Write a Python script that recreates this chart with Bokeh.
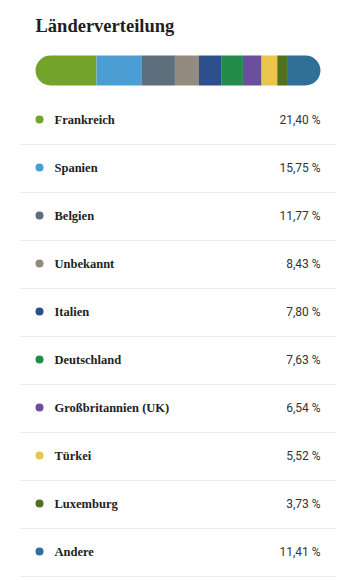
from bokeh.plotting import figure
from bokeh.models import Range1d, ColumnDataSource
from bokeh.core.properties import value
from bokeh.embed import file_html
from bokeh.resources import INLINE

title = "Länderverteilung"
countries = ["Frankreich", "Spanien", "Belgien", "Unbekannt", "Italien",
             "Deutschland", "Großbritannien (UK)", "Türkei", "Luxemburg", "Andere"]
shares = [21.40, 15.75, 11.77, 8.43, 7.80, 7.63, 6.54, 5.52, 3.73, 11.41]
colors = ["#74a32b", "#4a9ed3", "#5d6f7d", "#938a80", "#2d4f8e",
          "#238c4a", "#6a4f9e", "#e9c54b", "#4e721f", "#306f96"]
share_labels = [f"{v:.2f}".replace(".", ",") + " %" for v in shares]

W, H = 350, 580
p = figure(width=W, height=H, x_range=Range1d(0, W), y_range=Range1d(H, 0),
           toolbar_location=None, output_backend="svg",
           x_axis_location=None, y_axis_location=None, min_border=0)
p.grid.visible = False
p.outline_line_color = None
p.background_fill_color = "white"
p.border_fill_color = "white"

# percent scale for the stacked bar: 0% at x=35, 100% at x=320
bar_left, bar_right = 35, 320
ppx = (bar_right - bar_left) / 100.0
p.extra_x_ranges = {"pct": Range1d(-bar_left / ppx, (W - bar_left) / ppx)}

lefts, rights = [], []
acc = 0.0
for v in shares:
    lefts.append(acc)
    acc += v
    rights.append(acc)

bar_y = 70
bar_h = 30
n = len(shares)
for i in range(n):
    if i == 0:
        br = (15, 0, 0, 15)
    elif i == n - 1:
        br = (0, 15, 15, 0)
    else:
        br = 0
    src = ColumnDataSource(dict(left=[lefts[i]], right=[rights[i]], y=[bar_y], c=[colors[i]]))
    p.hbar(y="y", left="left", right="right", height=bar_h, fill_color="c",
           line_color=None, border_radius=br, x_range_name="pct", source=src)

# title
p.text(x=[35], y=[25], text=[title], text_font=value("Liberation Serif"),
       text_font_style="bold", text_font_size="18.5px", text_color="#1f1f1f",
       text_baseline="alphabetic", text_align="left")

row0, row_step = 119, 48
ys = [row0 + i * row_step for i in range(n)]
rows = ColumnDataSource(dict(y=ys, sep=[y + 25 for y in ys], name=countries,
                             val=share_labels, c=colors))

p.segment(x0=20, x1=336, y0="sep", y1="sep", line_color="#ececec", line_width=1, source=rows)
p.scatter(x=39, y="y", size=8, fill_color="c", line_color=None, source=rows)
p.text(x=54, y="y", text="name", text_font=value("Liberation Serif"),
       text_font_style="bold", text_font_size="12.5px", text_color="#222222",
       text_baseline="middle", text_align="left", source=rows)
p.text(x=320, y="y", text="val", text_font=value("Roboto"),
       text_font_size="12px", text_color="#333333",
       text_baseline="middle", text_align="right", source=rows)

open("out.html", "w").write(file_html(p, INLINE))
